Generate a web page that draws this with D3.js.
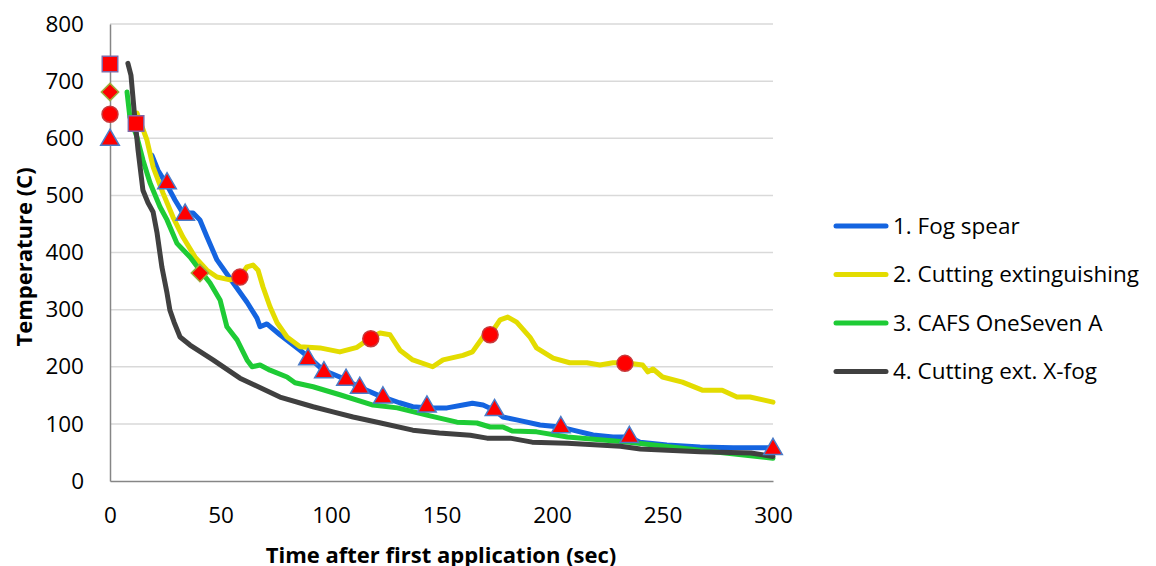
<!DOCTYPE html>
<html>
<head>
<meta charset="utf-8">
<script src="https://cdn.jsdelivr.net/npm/d3@7"></script>
<style>
  body { margin: 0; background: #fff; }
  text { font-family: "Open Sans", sans-serif; fill: #000; }
</style>
</head>
<body>
<svg id="chart" width="1156" height="566"></svg>
<script>
const WIDTH = 1156
const HEIGHT = 566

// series as [time (sec), temperature (C)]
const fogSpear = [
  [19, 570], [21.7, 544], [25.8, 518], [29.4, 492], [33, 469], [37.6, 469], [40.7, 457],
  [43.9, 427], [48.4, 387], [55.7, 347], [62, 313], [66.5, 285], [67.9, 270], [71, 275],
  [76.9, 256], [86, 229], [90.5, 215], [96.4, 194], [104, 182], [113, 164], [122, 149],
  [131, 137], [137, 130], [144.8, 128], [152.5, 128], [159.7, 133], [164, 136], [168.8, 133],
  [174, 124], [177.8, 112], [184, 107], [194.6, 98], [203.6, 94.5], [209.5, 89], [218.6, 80.5],
  [227.6, 77], [235, 77], [239.8, 68], [252, 63], [267, 59.5], [282, 58], [300, 58]
]
const cuttingExt = [
  [12.2, 644], [16.7, 597], [19.5, 550], [24, 504], [28.5, 462], [33, 427], [38.5, 392],
  [43.9, 369], [48.4, 357], [54.3, 352], [58.8, 357], [62, 375], [64.7, 378], [67, 369],
  [69.2, 340], [72.4, 305], [75.6, 277], [80.1, 252], [86, 235], [95, 233], [104, 226],
  [111.8, 234], [117.6, 250], [122.2, 259], [126.7, 256], [131.2, 229], [137, 212], [146, 200],
  [150.7, 212], [159.7, 220], [164, 226], [168.8, 252], [172, 256], [176.5, 282], [180, 287],
  [184, 278], [190, 252], [193, 233], [200.5, 215], [208, 207], [215.8, 207], [221.7, 203],
  [227.6, 207], [233, 207], [241, 203], [243.4, 191], [245.7, 196], [250, 182], [259, 173],
  [268, 159], [277, 159], [283.7, 147], [289.6, 147], [295.5, 142], [300, 138]
]
const cafs = [
  [7.7, 681], [9, 637], [12.2, 602], [14.9, 562], [18.1, 522], [22.6, 480], [25.8, 457],
  [30.3, 416], [36.2, 392], [40.7, 369], [45.2, 347], [49.8, 317], [52.9, 270], [57.5, 247],
  [62, 212], [64.3, 200], [67.9, 203], [72.4, 194], [80.1, 182], [83.7, 172], [91.9, 165],
  [104, 151], [119, 133], [130, 128], [144.8, 114], [157, 103], [166, 101.5], [172, 94.5],
  [177.8, 94.5], [182, 87.5], [193, 86], [207, 77], [235, 68], [267, 54], [300, 40]
]
const xFog = [
  [8.1, 731], [9.5, 710], [10.9, 649], [12.7, 579], [14.9, 509], [17.2, 487], [19.5, 471],
  [21.3, 434], [23.5, 374], [25.8, 329], [27.1, 299], [29, 278], [31.7, 252], [36.2, 238],
  [46.6, 212], [58.8, 180], [76.9, 147], [91.9, 130], [100.9, 121], [110, 112], [122, 102],
  [137, 89], [149, 84], [163, 80], [170.6, 75], [181, 75], [191, 68], [207, 66], [231, 61],
  [240, 56], [267, 51], [290, 49], [300, 43]
]

// red marker points
const triangles = [
  [0, 597], [25.8, 521], [34, 466], [89.6, 213], [96.8, 190], [106.8, 177], [113, 163],
  [123.5, 146], [143.4, 130], [174, 124], [204, 94], [235, 77], [300, 56]
]
const circles = [[0, 642], [58.8, 357], [118, 249], [172, 256], [233, 206]]
const diamonds = [[0, 681], [40.7, 364]]
const squares = [[0, 730], [11.8, 626]]

const seriesNames = ['1. Fog spear', '2. Cutting extinguishing', '3. CAFS OneSeven A', '4. Cutting ext. X-fog']
const seriesData = [fogSpear, cuttingExt, cafs, xFog]
const seriesColors = ['#1464E0', '#E3DC00', '#1ECB35', '#404040']

const xTicks = [0, 50, 100, 150, 200, 250, 300]
const yTicks = [0, 100, 200, 300, 400, 500, 600, 700, 800]

const svg = d3.select('#chart')

const x = d3.scaleLinear().domain([0, 300]).range([110, 773])
const y = d3.scaleLinear().domain([0, 800]).range([481, 24])

// grille
svg.append('g')
  .selectAll('line')
  .data(yTicks.filter(d => d > 0))
  .enter()
  .append('line')
  .attr('x1', x(0)).attr('x2', x(300))
  .attr('y1', d => y(d)).attr('y2', d => y(d))
  .attr('stroke', '#D9D9D9')
  .attr('stroke-width', 1.5)

// axes
const yAxis = svg.append('g')
  .attr('transform', `translate(${x(0)},0)`)
  .call(d3.axisLeft(y).tickValues(yTicks).tickSize(0).tickPadding(26))
yAxis.select('.domain').attr('stroke', '#868686').attr('stroke-width', 1.5)
yAxis.selectAll('text').style('font-size', '22.5px').style('font-family', 'Open Sans').attr('fill', '#000')

const xAxis = svg.append('g')
  .attr('transform', `translate(0,${y(0)})`)
  .call(d3.axisBottom(x).tickValues(xTicks).tickSize(0).tickPadding(26))
xAxis.select('.domain').attr('stroke', '#868686').attr('stroke-width', 1.5)
xAxis.selectAll('text').style('font-size', '22.5px').style('font-family', 'Open Sans').attr('fill', '#000')

// titres des axes
svg.append('text')
  .attr('x', 441).attr('y', 563)
  .attr('text-anchor', 'middle')
  .style('font-size', '22px').style('font-weight', 'bold')
  .text('Time after first application (sec)')

svg.append('text')
  .attr('transform', 'translate(32,257) rotate(-90)')
  .attr('text-anchor', 'middle')
  .style('font-size', '22px').style('font-weight', 'bold')
  .text('Temperature (C)')

// les courbes
const line = d3.line().x(d => x(d[0])).y(d => y(d[1]))

svg.append('g')
  .selectAll('path')
  .data(seriesData)
  .enter()
  .append('path')
  .attr('d', line)
  .attr('fill', 'none')
  .attr('stroke', (d, i) => seriesColors[i])
  .attr('stroke-width', 5)
  .attr('stroke-linejoin', 'round')
  .attr('stroke-linecap', 'round')

// les marqueurs
const markerSets = [
  { pts: triangles, type: d3.symbolTriangle, size: 150, stroke: '#4A7BC8', rot: 0 },
  { pts: circles, type: d3.symbolCircle, size: 200, stroke: '#C8393B', rot: 0 },
  { pts: diamonds, type: d3.symbolSquare, size: 150, stroke: '#9BAE3C', rot: 45 },
  { pts: squares, type: d3.symbolSquare, size: 240, stroke: '#8068A6', rot: 0 }
]
markerSets.forEach(m => {
  svg.append('g')
    .selectAll('path')
    .data(m.pts)
    .enter()
    .append('path')
    .attr('transform', d => `translate(${x(d[0])},${y(d[1])}) rotate(${m.rot})`)
    .attr('d', d3.symbol().type(m.type).size(m.size))
    .attr('fill', '#FF0000')
    .attr('stroke', m.stroke)
    .attr('stroke-width', 1.5)
})

// légende
const legend = svg.append('g')
  .selectAll('g')
  .data(seriesNames)
  .enter()
  .append('g')
  .attr('transform', (d, i) => `translate(0,${226 + i * 48.5})`)

legend.append('line')
  .attr('x1', 836).attr('x2', 886)
  .attr('stroke', (d, i) => seriesColors[i])
  .attr('stroke-width', 5)
  .attr('stroke-linecap', 'round')

legend.append('text')
  .attr('x', 893).attr('y', 0)
  .attr('dy', '0.35em')
  .style('font-size', '22.5px')
  .text(d => d)
</script>
</body>
</html>
